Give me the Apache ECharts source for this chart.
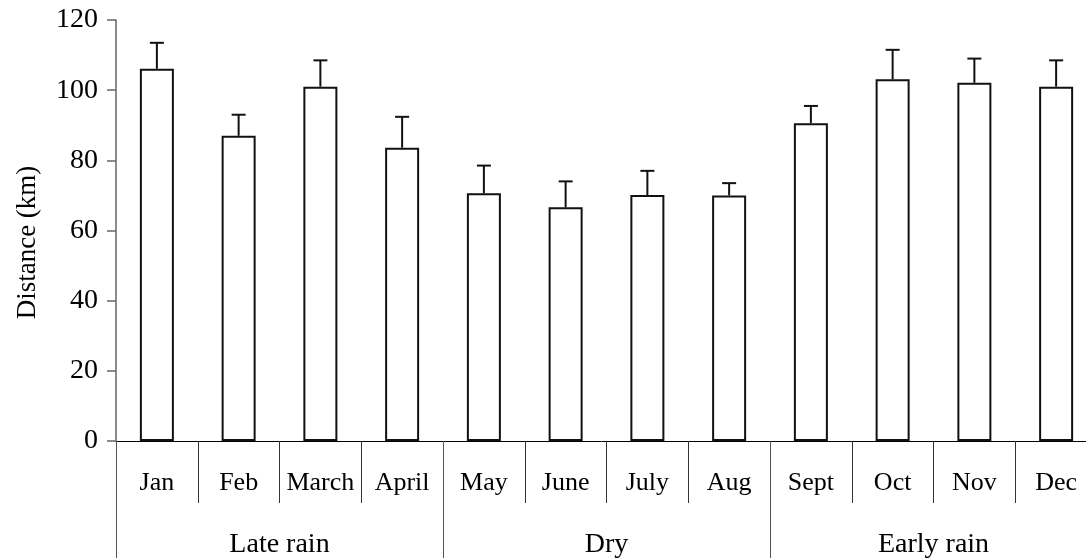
<!DOCTYPE html>
<html>
<head>
<meta charset="utf-8">
<script src="https://cdn.jsdelivr.net/npm/echarts@6/dist/echarts.min.js"></script>
<style>
html,body{margin:0;padding:0;background:#fff;}
#chart{width:1086px;height:558px;}
</style>
</head>
<body>
<div id="chart"></div>
<script>
const months = ['Jan','Feb','March','April','May','June','July','Aug','Sept','Oct','Nov','Dec'];
const seasons = ['Late rain','Dry','Early rain'];
const meanDistance = [106.1, 87.0, 101.0, 83.6, 70.6, 66.6, 70.1, 70.0, 90.6, 103.1, 102.1, 101.0];
const errorUpper = [7.4, 6.0, 7.5, 8.8, 7.9, 7.4, 6.9, 3.5, 4.9, 8.4, 6.9, 7.5];
const yTicks = {min: 0, max: 120, interval: 20};

const FONT = '"Liberation Serif", "Times New Roman", serif';
const chart = echarts.init(document.getElementById('chart'), null, {renderer: 'canvas'});

const errData = meanDistance.map((m, i) => [i, m, m + errorUpper[i]]);

chart.setOption({
  animation: false,
  backgroundColor: '#fff',
  grid: {left: 116, top: 20, right: -11, bottom: 117, containLabel: false, outerBoundsMode: 'none'},
  xAxis: [
    {
      type: 'category',
      data: months,
      position: 'bottom',
      axisLine: {show: true, onZero: false, lineStyle: {color: '#000', width: 1}},
      axisTick: {show: true, interval: 0, alignWithLabel: false, length: 62, lineStyle: {color: '#333', width: 1}},
      axisLabel: {interval: 0, margin: 29, color: '#000', fontFamily: FONT, fontSize: 26},
      splitLine: {show: false}
    },
    {
      type: 'category',
      data: seasons,
      position: 'bottom',
      axisLine: {show: false},
      axisTick: {show: true, interval: 0, alignWithLabel: false, length: 118, lineStyle: {color: '#555', width: 1}},
      axisLabel: {interval: 0, margin: 90, color: '#000', fontFamily: FONT, fontSize: 28},
      splitLine: {show: false}
    }
  ],
  yAxis: {
    type: 'value',
    min: yTicks.min, max: yTicks.max, interval: yTicks.interval,
    name: 'Distance (km)',
    nameLocation: 'middle',
    nameGap: 75,
    nameTextStyle: {color: '#000', fontFamily: FONT, fontSize: 27, padding: [0, 24, 0, 0]},
    axisLine: {show: true, lineStyle: {color: '#666', width: 1.5}},
    axisTick: {show: true, length: 9, lineStyle: {color: '#666', width: 1.5}},
    axisLabel: {margin: 18, color: '#000', fontFamily: FONT, fontSize: 28},
    splitLine: {show: false}
  },
  series: [
    {
      type: 'bar',
      data: meanDistance,
      barWidth: 34,
      itemStyle: {color: '#fff', borderColor: '#111', borderWidth: 2},
      z: 2
    },
    {
      type: 'custom',
      data: errData,
      z: 3,
      renderItem: function (params, api) {
        const i = api.value(0);
        const p0 = api.coord([i, api.value(1)]);
        const p1 = api.coord([i, api.value(2)]);
        const half = 7;
        const style = {stroke: '#111', lineWidth: 2, fill: null};
        return {
          type: 'group',
          children: [
            {type: 'line', shape: {x1: p0[0], y1: p0[1], x2: p1[0], y2: p1[1]}, style: style},
            {type: 'line', shape: {x1: p1[0] - half, y1: p1[1], x2: p1[0] + half, y2: p1[1]}, style: style}
          ]
        };
      },
      encode: {x: 0, y: [1, 2]}
    }
  ]
});
</script>
</body>
</html>
